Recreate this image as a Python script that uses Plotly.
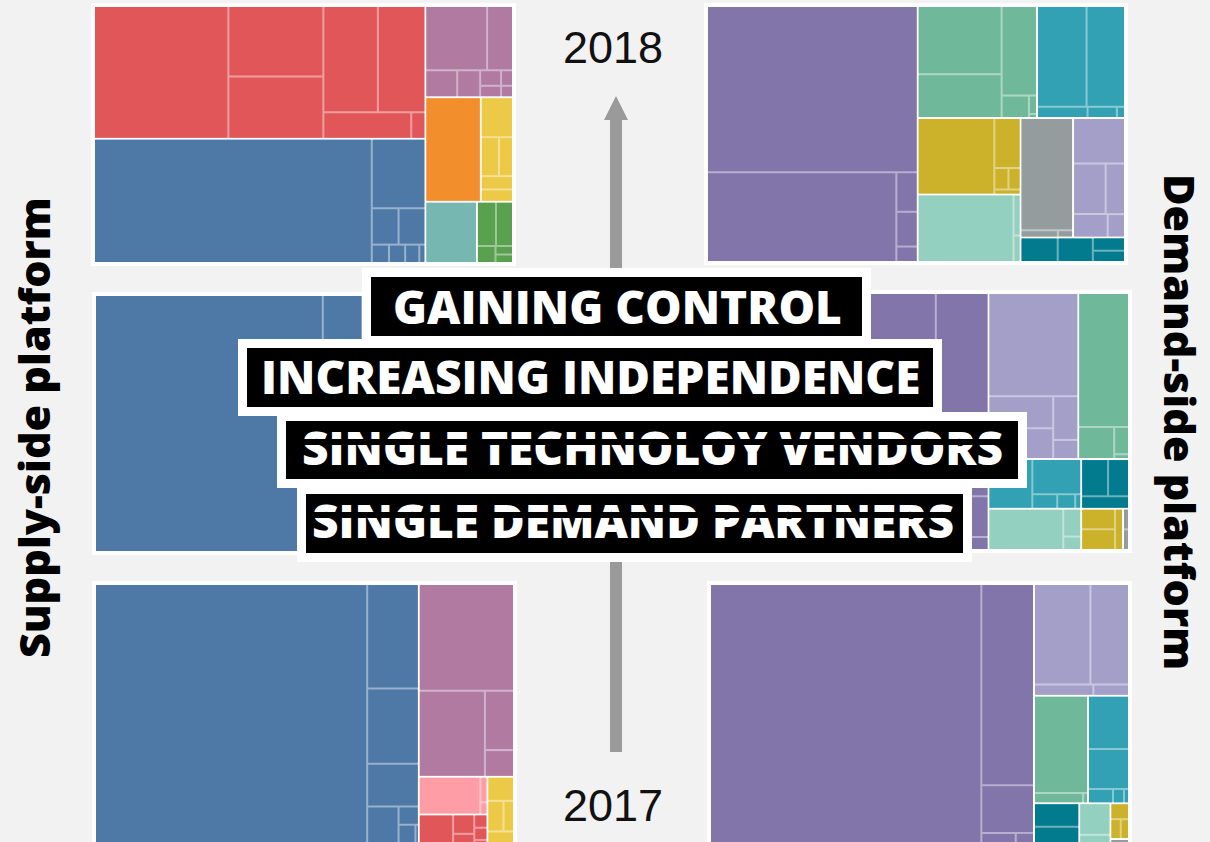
import plotly.graph_objects as go

W, H = 1210, 842
BG = "#f2f2f2"

# ---------------- data (relative shares, arbitrary units) ----------------
# Supply-side platform treemaps
ssp_groups = ["SSP A", "SSP B", "SSP C", "SSP D", "SSP E", "SSP F", "SSP G", "SSP H"]
ssp_colors = ["#e15759", "#4e79a7", "#b07aa1", "#f28e2b", "#edc948", "#76b7b2", "#59a14f", "#ff9da7"]

ssp_2018_values = [
    [17292, 6486, 5734, 5616, 4888, 2262, 364],        # SSP A
    [33428, 3604, 945, 945, 306, 288, 252, 108],       # SSP B
    [3844, 1612, 832, 598, 315, 231, 180, 132],        # SSP C
    [5610],                                            # SSP D
    [1248, 684, 532, 416, 384],                        # SSP E
    [3060],                                            # SSP F
    [817, 731, 306, 144, 144],                         # SSP G
    [],                                                # SSP H
]
ssp_mid_values = [
    [2800, 1600, 1100],
    [54500, 5500, 2500, 1000, 500],
    [7500, 4000, 2000, 1000],
    [],
    [2200, 1400, 900],
    [3000],
    [1200, 800],
    [4800, 1700],
]
ssp_2017_values = [
    [952, 399, 189, 169, 156, 39],
    [68608, 5253, 3774, 2142, 1116, 360, 300, 60],
    [9880, 5544, 1682, 754],
    [],
    [624, 480, 312, 300],
    [],
    [],
    [2257, 175, 84],
]

# Demand-side platform treemaps
dsp_groups = ["DSP A", "DSP B", "DSP C", "DSP D", "DSP E", "DSP F", "DSP G", "DSP H"]
dsp_colors = ["#8175aa", "#6fb899", "#31a1b3", "#ccb22b", "#94d0c0", "#959c9e", "#a39fc9", "#027b8e"]

dsp_2018_values = [
    [34000, 16500, 820, 720, 320],
    [5561, 3569, 3080, 594, 144, 32],
    [4851, 3762, 550, 319, 88],
    [5700, 1274, 294, 252, 130],
    [6270, 280, 182],
    [5720, 259, 105],
    [2295, 1600, 950, 782, 391],
    [888, 840, 416, 352],
]
dsp_mid_values = [
    [57120, 10404, 2091, 663],
    [6600, 1122, 392, 70],
    [2112, 1666, 350, 252, 84],
    [680, 680, 320],
    [3000, 486, 234],
    [120, 120],
    [9000, 2010, 1943, 1066, 468],
    [972, 756, 576],
]
dsp_2017_values = [
    [68608, 10348, 2444, 340, 180],
    [5130, 490, 50],
    [2132, 1599, 350, 154, 70],
    [288, 200, 160],
    [961, 248],
    [72],
    [5529, 3783, 660, 396],
    [1035, 720],
]

year_labels = ["2018", "2017"]
headlines = ["GAINING CONTROL", "INCREASING INDEPENDENCE"]
struck_lines = ["SINGLE TECHNOLOY VENDORS", "SINGLE DEMAND PARTNERS"]
side_titles = ["Supply-side platform", "Demand-side platform"]


# ---------------- helpers ----------------
def px_x(x):
    return x / W


def px_y(y):
    return 1 - y / H


def lighten(hex_color, f=0.42):
    h = hex_color.lstrip("#")
    r, g, b = (int(h[i:i + 2], 16) for i in (0, 2, 4))
    r, g, b = (round(c + (255 - c) * f) for c in (r, g, b))
    return f"rgb({r},{g},{b})"


fig = go.Figure()
shapes = []


def add_treemap(name, groups, values, colors, x0, x1, y0, y1):
    ids, labels, parents, vals, cols = [name], [name], [""], [0], ["white"]
    for g, vs, c in zip(groups, values, colors):
        if not vs:
            continue
        gid = f"{name}/{g}"
        ids.append(gid)
        labels.append(g)
        parents.append(name)
        vals.append(0)
        cols.append(lighten(c))
        for i, v in enumerate(vs):
            ids.append(f"{gid}/{i + 1}")
            labels.append(f"{g} · {i + 1}")
            parents.append(gid)
            vals.append(v)
            cols.append(c)
    fig.add_trace(go.Treemap(
        ids=ids, labels=labels, parents=parents, values=vals,
        branchvalues="remainder", sort=True,
        marker=dict(colors=cols, line=dict(width=0), pad=dict(t=0, l=0, r=0, b=0),
                    depthfade=False),
        tiling=dict(packing="squarify", squarifyratio=1.618034, pad=2),
        pathbar=dict(visible=False), textinfo="none", hoverinfo="label+value",
        domain=dict(x=[px_x(x0), px_x(x1)], y=[px_y(y1), px_y(y0)]),
    ))
    # white frame behind the treemap
    shapes.append(dict(type="rect", xref="paper", yref="paper", layer="below",
                       x0=px_x(x0 - 4), x1=px_x(x1 + 4), y0=px_y(y1 + 4), y1=px_y(y0 - 4),
                       fillcolor="white", line=dict(width=0)))


add_treemap("SSP 2018", ssp_groups, ssp_2018_values, ssp_colors, 95, 512, 7, 262)
add_treemap("SSP mid", ssp_groups, ssp_mid_values, ssp_colors, 96, 512, 296, 551)
add_treemap("SSP 2017", ssp_groups, ssp_2017_values, ssp_colors, 96, 513, 585, 842)
add_treemap("DSP 2018", dsp_groups, dsp_2018_values, dsp_colors, 708, 1124, 7, 261)
add_treemap("DSP mid", dsp_groups, dsp_mid_values, dsp_colors, 708, 1128, 294, 549)
add_treemap("DSP 2017", dsp_groups, dsp_2017_values, dsp_colors, 711, 1128, 585, 842)

# arrow (shaft + head)
ARROW = "#9a9a9a"
shapes.append(dict(type="rect", xref="paper", yref="paper", layer="above",
                   x0=px_x(610), x1=px_x(622), y0=px_y(752), y1=px_y(118),
                   fillcolor=ARROW, line=dict(width=0)))
shapes.append(dict(type="path", xref="paper", yref="paper", layer="above",
                   path=f"M {px_x(604)} {px_y(120)} L {px_x(628)} {px_y(120)} L {px_x(616)} {px_y(96)} Z",
                   fillcolor=ARROW, line=dict(width=0)))

annotations = []


def label(text, x, y, font, angle=0):
    annotations.append(dict(text=text, x=px_x(x), y=px_y(y), xref="paper", yref="paper",
                            showarrow=False, xanchor="center", yanchor="middle",
                            textangle=angle, font=font))


YEAR_FONT = dict(family="Liberation Sans, Arial", size=45, color="#111")
label(year_labels[0], 613, 48, YEAR_FONT)
label(year_labels[1], 613, 805, YEAR_FONT)

HEAD_FONT = dict(family="Open Sans, Lato, sans-serif", size=46, color="white", weight=800)


def rect_note(x0, x1, y0, y1, bw):
    annotations.append(dict(
        text=" ", x=px_x((x0 + x1) / 2), y=px_y((y0 + y1) / 2), xref="paper", yref="paper",
        showarrow=False, xanchor="center", yanchor="middle",
        width=x1 - x0, height=y1 - y0, bgcolor="black",
        bordercolor="white", borderwidth=bw, borderpad=0,
        font=dict(size=1, color="black")))


# black boxes (with white frames)
rect_note(371, 862, 277, 336, 9)
rect_note(247, 933, 348, 407, 9)
rect_note(286, 1018, 421, 479, 9)
rect_note(306, 963, 494, 553, 9)
# headline texts
label(headlines[0], 617, 306, HEAD_FONT)
label(headlines[1], 590, 376, HEAD_FONT)
label(struck_lines[0], 652, 447, HEAD_FONT)
label(struck_lines[1], 633, 520, HEAD_FONT)
# black bands cutting through the struck-out lines
rect_note(292, 1012, 439, 445, 0)
rect_note(312, 957, 512, 518, 0)

# side titles
SIDE_FONT = dict(family="Open Sans, Lato, sans-serif", size=43, color="black", weight=800)
label(side_titles[0], 33, 428, SIDE_FONT, -90)
label(side_titles[1], 1181, 422, SIDE_FONT, 90)

fig.update_layout(
    width=W, height=H, margin=dict(l=0, r=0, t=0, b=0),
    paper_bgcolor=BG, plot_bgcolor=BG, showlegend=False,
    shapes=shapes, annotations=annotations,
)

fig.write_html("out.html", config={"displayModeBar": False},
               post_script="document.body.style.margin='0';document.body.style.overflow='hidden';")
